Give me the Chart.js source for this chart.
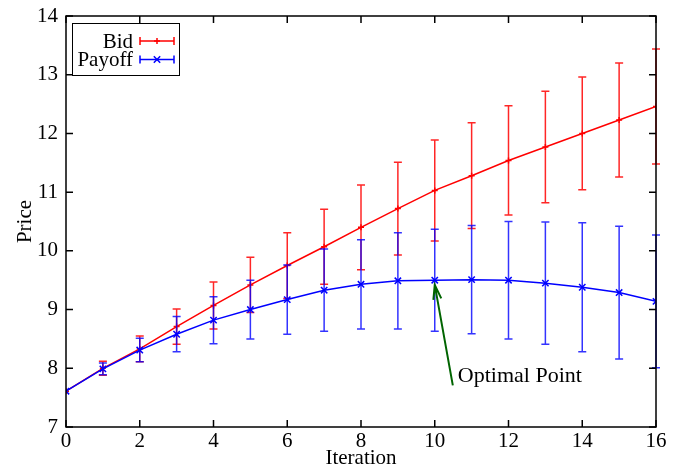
<!DOCTYPE html>
<html>
<head>
<meta charset="utf-8">
<script src="https://cdn.jsdelivr.net/npm/chart.js@4.4.0/dist/chart.umd.min.js"></script>
<style>
  body { margin: 0; background: #fff; }
</style>
</head>
<body>
<canvas id="myChart" width="677" height="468"></canvas>
<script>
const iterations = [0, 1, 2, 3, 4, 5, 6, 7, 8, 9, 10, 11, 12, 13, 14, 15, 16];
const bidPrice = [7.61, 8.0, 8.33, 8.71, 9.07, 9.42, 9.75, 10.07, 10.40, 10.72, 11.03, 11.28, 11.54, 11.77, 12.0, 12.23, 12.46];
const bidError = [0, 0.12, 0.22, 0.3, 0.4, 0.47, 0.56, 0.64, 0.72, 0.79, 0.86, 0.9, 0.93, 0.95, 0.96, 0.97, 0.98];
const payoffPrice = [7.61, 7.99, 8.31, 8.58, 8.82, 9.0, 9.17, 9.33, 9.43, 9.49, 9.50, 9.51, 9.50, 9.45, 9.38, 9.29, 9.14];
const payoffError = [0, 0.1, 0.2, 0.3, 0.4, 0.5, 0.59, 0.7, 0.76, 0.82, 0.87, 0.92, 1.0, 1.04, 1.1, 1.13, 1.13];

// annotation (data coordinates)
const optimalPoint = {x: 10, y: 9.42};
const optimalLabel = {x: 10.49, y: 7.71, text: 'Optimal Point'};

const serif = '"Liberation Serif", "Times New Roman", serif';
const font = {family: serif, size: 21, lineHeight: 1};

// error bars, drawn right before each dataset's line
const errorBars = {
  id: 'errorBars',
  beforeDatasetDraw(chart, args) {
    const ds = chart.data.datasets[args.index];
    if (!ds.errors) return;
    const xs = chart.scales.x, ys = chart.scales.y, ctx = chart.ctx;
    ctx.save();
    ctx.strokeStyle = ds.errorColor;
    ctx.lineWidth = 1.5;
    ds.data.forEach((p, i) => {
      const e = ds.errors[i];
      if (!e) return;
      const px = xs.getPixelForValue(p.x);
      const top = ys.getPixelForValue(p.y + e);
      const bot = ys.getPixelForValue(p.y - e);
      ctx.beginPath();
      ctx.moveTo(px, top); ctx.lineTo(px, bot);
      ctx.moveTo(px - 4, top); ctx.lineTo(px + 4, top);
      ctx.moveTo(px - 4, bot); ctx.lineTo(px + 4, bot);
      ctx.stroke();
    });
    ctx.restore();
  }
};

// frame with inward ticks, legend box, arrow
const decorations = {
  id: 'decorations',
  afterDraw(chart) {
    const {ctx, chartArea: a} = chart;
    const xs = chart.scales.x, ys = chart.scales.y;
    ctx.save();
    ctx.strokeStyle = '#000';
    ctx.lineWidth = 1.5;
    ctx.strokeRect(a.left, a.top, a.right - a.left, a.bottom - a.top);
    ctx.beginPath();
    xs.ticks.forEach(t => {
      const px = xs.getPixelForValue(t.value);
      ctx.moveTo(px, a.bottom); ctx.lineTo(px, a.bottom - 7);
      ctx.moveTo(px, a.top); ctx.lineTo(px, a.top + 7);
    });
    ys.ticks.forEach(t => {
      const py = ys.getPixelForValue(t.value);
      ctx.moveTo(a.left, py); ctx.lineTo(a.left + 7, py);
      ctx.moveTo(a.right, py); ctx.lineTo(a.right - 7, py);
    });
    ctx.stroke();

    // legend
    ctx.lineWidth = 1;
    ctx.strokeRect(72.5, 23.5, 107, 52);
    ctx.font = '21px ' + serif;
    ctx.fillStyle = '#000';
    ctx.textAlign = 'right';
    ctx.textBaseline = 'middle';
    chart.data.datasets.forEach((ds, i) => {
      const y = 41 + i * 18.5;
      ctx.fillText(ds.label, 133, y + 1);
      ctx.strokeStyle = ds.borderColor;
      ctx.lineWidth = 1.5;
      ctx.beginPath();
      ctx.moveTo(140, y); ctx.lineTo(174, y);
      ctx.moveTo(140, y - 4); ctx.lineTo(140, y + 4);
      ctx.moveTo(174, y - 4); ctx.lineTo(174, y + 4);
      ctx.stroke();
      Chart.helpers.drawPoint(ctx, {pointStyle: ds.pointStyle, radius: ds.pointRadius, borderWidth: 1.5}, 157, y);
    });

    // arrow + label
    const hx = xs.getPixelForValue(optimalPoint.x), hy = ys.getPixelForValue(optimalPoint.y);
    const tx = xs.getPixelForValue(optimalLabel.x), ty = ys.getPixelForValue(optimalLabel.y);
    const ang = Math.atan2(ty - hy, tx - hx);
    ctx.strokeStyle = '#006400';
    ctx.lineWidth = 2;
    ctx.beginPath();
    ctx.moveTo(tx, ty); ctx.lineTo(hx, hy);
    ctx.moveTo(hx + 15 * Math.cos(ang - 0.27), hy + 15 * Math.sin(ang - 0.27));
    ctx.lineTo(hx, hy);
    ctx.lineTo(hx + 15 * Math.cos(ang + 0.27), hy + 15 * Math.sin(ang + 0.27));
    ctx.stroke();
    ctx.textAlign = 'left';
    ctx.font = '22px ' + serif;
    ctx.fillText(optimalLabel.text, tx + 5, ty - 9);
    ctx.restore();
  }
};

new Chart('myChart', {
  type: 'line',
  data: {
    datasets: [{
      label: 'Bid',
      data: iterations.map((it, i) => ({x: it, y: bidPrice[i]})),
      errors: bidError,
      errorColor: 'rgba(255,0,0,0.85)',
      borderColor: '#ff0000',
      backgroundColor: '#ff0000',
      borderWidth: 1.5,
      pointStyle: 'cross',
      pointRadius: 3,
      pointBorderWidth: 1.5,
      tension: 0,
      fill: false,
      order: 2
    }, {
      label: 'Payoff',
      data: iterations.map((it, i) => ({x: it, y: payoffPrice[i]})),
      errors: payoffError,
      errorColor: 'rgba(0,0,255,0.8)',
      borderColor: '#0000ff',
      backgroundColor: '#0000ff',
      borderWidth: 1.5,
      pointStyle: 'crossRot',
      pointRadius: 4.5,
      pointBorderWidth: 1.5,
      tension: 0,
      fill: false,
      order: 1
    }]
  },
  options: {
    responsive: false,
    animation: false,
    layout: {padding: {top: 16, right: 21, left: 0, bottom: 0}},
    plugins: {legend: {display: false}, tooltip: {enabled: false}},
    scales: {
      x: {
        type: 'linear', min: 0, max: 16,
        grid: {display: false}, border: {display: false},
        ticks: {stepSize: 2, color: '#000', font: font, padding: -4, maxRotation: 0},
        title: {display: true, text: 'Iteration', color: '#000', font: font, padding: {top: 0, bottom: -1}},
        afterFit: s => { s.height = 41; }
      },
      y: {
        min: 7, max: 14,
        grid: {display: false}, border: {display: false},
        ticks: {stepSize: 1, color: '#000', font: font, padding: 0},
        title: {display: true, text: 'Price', color: '#000', font: font, padding: {top: 15, bottom: 0}},
        afterFit: s => { s.width = 66; }
      }
    }
  },
  plugins: [errorBars, decorations]
});
</script>
</body>
</html>
